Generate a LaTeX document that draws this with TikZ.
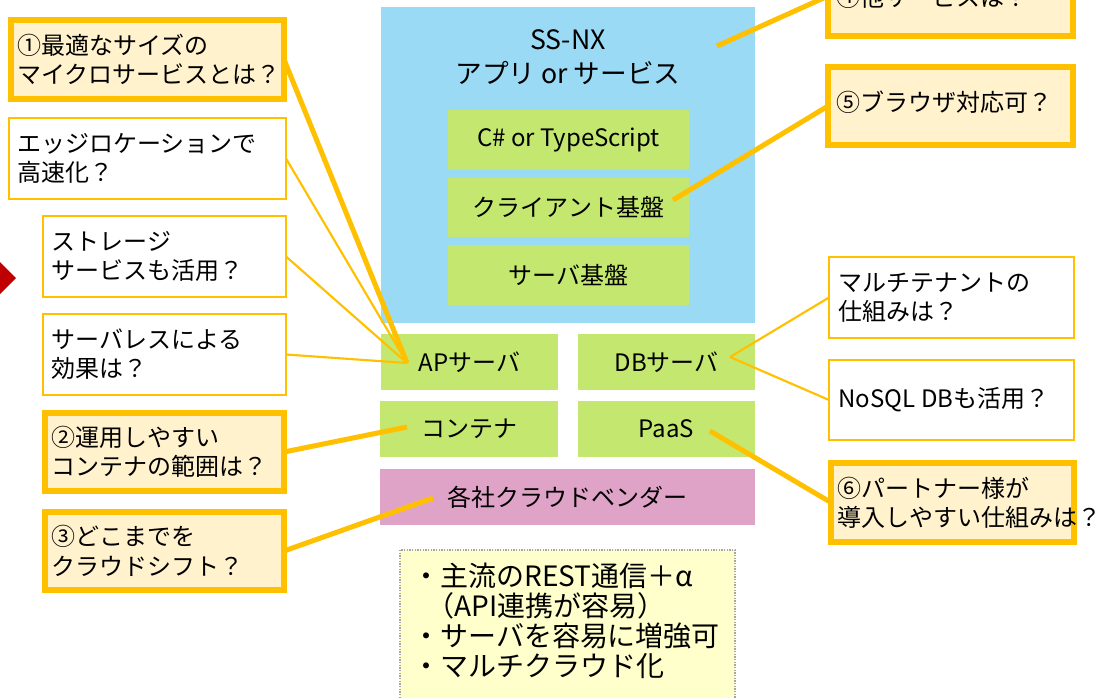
\documentclass[tikz,border=0pt]{standalone}
\usepackage{fontspec}
\setmainfont{Noto Sans CJK JP}
\definecolor{ybord}{HTML}{FFC000}
\definecolor{yfill}{HTML}{FFF2CC}
\definecolor{skyb}{HTML}{9ADAF4}
\definecolor{lgreen}{HTML}{C4E86F}
\definecolor{pinkv}{HTML}{E0A3C8}
\definecolor{notef}{HTML}{FFFFCC}
\definecolor{darkred}{HTML}{C00000}
\tikzset{
 base/.style={rectangle, inner sep=0pt, outer sep=0pt, anchor=north west},
 qthick/.style={base, draw=ybord, line width=4pt, fill=yfill},
 qthin/.style={base, draw=ybord, line width=2pt, fill=white},
 layer/.style={base, fill=lgreen, font=\fontsize{18}{22}\selectfont},
 vendor/.style={base, fill=pinkv, font=\fontsize{18}{22}\selectfont},
 qtext/.style={anchor=west, align=left, inner sep=0pt, font=\fontsize{18}{22}\selectfont},
 lthick/.style={draw=ybord, line width=3.75pt},
 lthin/.style={draw=ybord, line width=1.6pt},
}
% #1 name, #2 style, #3 x1, #4 y1, #5 x2, #6 y2, #7 text
\newcommand\rbox[7]{\node[#2, minimum width={(#5-#3)*0.75pt}, minimum height={(#6-#4)*0.75pt}] (#1) at (#3,#4) {#7};}
\begin{document}
\begin{tikzpicture}[x=0.75pt,y=-0.75pt]
\path[use as bounding box] (0,0) rectangle (1105,697);
\clip (0,0) rectangle (1105,697);
\fill[white] (0,0) rectangle (1105,697);

% red arrow head at the left edge
\fill[darkred] (-30,232) -- (16,278) -- (-30,324) -- cycle;

% central stack
\rbox{app}{base, fill=skyb}{381}{7}{755}{323}{}
\node[align=center, inner sep=0pt, font=\fontsize{20}{25}\selectfont] (apptitle) at (568,57) {SS-NX\\アプリ or サービス};
\rbox{lang}{layer}{448}{110}{689}{170}{C\# or TypeScript}
\rbox{client}{layer}{448}{178}{689}{237}{クライアント基盤}
\rbox{srvbase}{layer}{448}{245}{689}{305}{サーバ基盤}
\rbox{ap}{layer}{381}{334}{558}{390}{APサーバ}
\rbox{db}{layer}{578}{334}{755}{390}{DBサーバ}
\rbox{cont}{layer}{380}{401}{558}{457}{コンテナ}
\rbox{paas}{layer}{578}{401}{755}{457}{PaaS}
\rbox{vend}{vendor}{380}{469}{755}{525}{各社クラウドベンダー}

% note
\rbox{note}{base, draw=gray!70, line width=0.8pt, dash pattern=on 1pt off 1pt, fill=notef}{400}{550}{735}{720}{}
\node[anchor=north west, align=left, inner sep=0pt, font=\fontsize{21}{22.5}\selectfont] (notetext) at (412,563)
 {・主流のREST通信＋α\\\hspace{0.5em}（API連携が容易）\\・サーバを容易に増強可\\・マルチクラウド化};

% left questions
\rbox{q1}{qthick}{11}{20}{284}{99}{}
\node[qtext] (q1t) at ([xshift=4.5pt]q1.west) {①最適なサイズの\\マイクロサービスとは？};
\rbox{qedge}{qthin}{9}{118}{286}{199}{}
\node[qtext] (qedget) at ([xshift=6pt]qedge.west) {エッジロケーションで\\高速化？};
\rbox{qstor}{qthin}{43}{216}{286}{297}{}
\node[qtext] (qstort) at ([xshift=6.5pt]qstor.west) {ストレージ\\サービスも活用？};
\rbox{qsl}{qthin}{43}{314}{286}{395}{}
\node[qtext] (qslt) at ([xshift=6.5pt]qsl.west) {サーバレスによる\\効果は？};
\rbox{q2}{qthick}{45}{413}{284}{491}{}
\node[qtext] (q2t) at ([xshift=5pt]q2.west) {②運用しやすい\\コンテナの範囲は？};
\rbox{q3}{qthick}{45}{512}{284}{590}{}
\node[qtext] (q3t) at ([xshift=5pt]q3.west) {③どこまでを\\クラウドシフト？};

% right questions
\rbox{q4}{qthick}{828}{-44}{1073}{36}{}
\node[qtext] (q4t) at ([xshift=6pt,yshift=-1pt]q4.west) {④他サービスは？};
\rbox{q5}{qthick}{828}{67}{1073}{145}{}
\node[qtext] (q5t) at ([xshift=6pt,yshift=3pt]q5.west) {⑤ブラウザ対応可？};
\rbox{qmt}{qthin}{829}{257}{1074}{338}{}
\node[qtext] (qmtt) at ([xshift=7pt]qmt.west) {マルチテナントの\\仕組みは？};
\rbox{qnosql}{qthin}{829}{360}{1074}{440}{}
\node[qtext] (qnosqlt) at ([xshift=7pt]qnosql.west) {NoSQL DBも活用？};
\rbox{q6}{qthick}{831}{463}{1074}{542}{}
\node[qtext] (q6t) at ([xshift=5pt]q6.west) {⑥パートナー様が\\導入しやすい仕組みは？};

% connector end points
\coordinate (apP) at (407,363);
\coordinate (contP) at (407,427);
\coordinate (vendP) at (433,498);
\coordinate (appP) at (717,46);
\coordinate (clientP) at (673,200);
\coordinate (dbP) at (730,357);
\coordinate (paasP) at (710,431);

\draw[lthin] (qedge.east) -- (apP);
\draw[lthin] (qstor.east) -- (apP);
\draw[lthin] (qsl.east) -- (apP);
\draw[lthick] (q1.east) -- (apP);
\draw[lthick] (q2.east) -- (contP);
\draw[lthick] (q3.east) -- (vendP);
\draw[lthick] (q4.west) -- (appP);
\draw[lthick] (q5.west) -- (clientP);
\draw[lthin] (qmt.west) -- (dbP);
\draw[lthin] (qnosql.west) -- (dbP);
\draw[lthick] (q6.west) -- (paasP);
\end{tikzpicture}
\end{document}
